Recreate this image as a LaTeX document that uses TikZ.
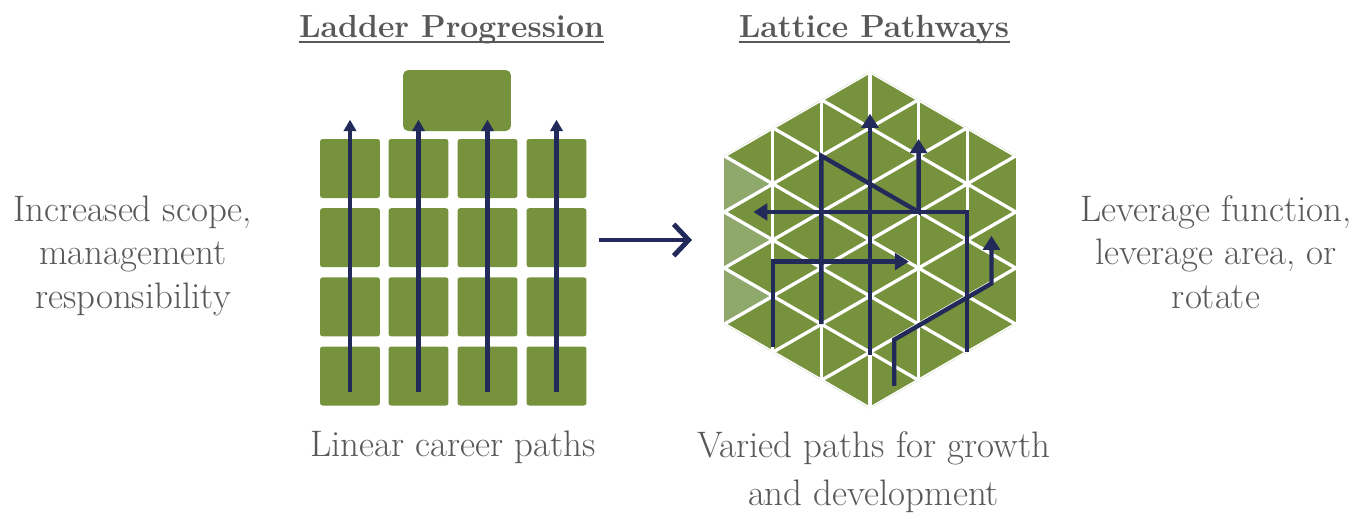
\documentclass[tikz,border=0pt]{standalone}
\usepackage{xcolor}
\usepackage{tikz}
\usetikzlibrary{positioning,arrows.meta}
\definecolor{leaf}{HTML}{76923C}
\definecolor{leaflight}{HTML}{8FA86B}
\definecolor{navy}{HTML}{222A5A}
\definecolor{ink}{HTML}{585858}

\begin{document}
\begin{tikzpicture}[x=0.02cm,y=-0.02cm]
      \tikzstyle{cell} = [rectangle, fill=leaf, rounded corners=1.5pt,
      inner sep=0pt, minimum width=1.2cm, minimum height=1.18cm]
      \tikzstyle{topcell} = [cell, rounded corners=3pt, minimum
      width=2.16cm, minimum height=1.22cm]
      \tikzstyle{climb} = [draw=navy, line width=2.3pt,
      -{Triangle[length=6.5pt,width=7pt]}]
      \tikzstyle{route} = [draw=navy, line width=2.5pt,
      -{Triangle[length=8pt,width=9.5pt]}]
      \tikzstyle{seam} = [draw=white, line width=1.9pt]
      \tikzstyle{txt} = [text=ink, align=center, inner sep=0pt,
      font=\fontsize{21}{24.7}\selectfont]
      \tikzstyle{ttl} = [txt, font=\fontsize{18.2}{22}\selectfont\bfseries]
      \useasboundingbox (0,0) rectangle (1357,515);
      % TITLES
      \node[ttl, anchor=base] (lp) at (451.5,37) {Ladder Progression};
      \node[ttl, anchor=base] (lt) at (874,37) {Lattice Pathways};
      \draw[ink, line width=1.3pt] ([yshift=-2.9pt]lp.base west) --
      ([yshift=-2.9pt]lp.base east);
      \draw[ink, line width=1.3pt] ([yshift=-2.9pt]lt.base west) --
      ([yshift=-2.9pt]lt.base east);
      % SIDE TEXT (base = last line)
      \node[txt, anchor=base] (lefttxt) at (133,308) {Increased
        scope,\\ management\\ responsibility};
      \node[txt, anchor=base] (righttxt) at (1216,308) {Leverage
        function,\\ leverage area, or\\ rotate};
      \node[txt, anchor=base] (lin) at (453,456) {Linear career paths};
      \node[txt, anchor=base, font=\fontsize{21}{27.2}\selectfont]
      (var) at (873.5,505) {Varied paths for growth\\ and development};
      % LADDER
      \node[topcell] (top) at (457,100.5) {};
      \node[cell] (a1) at (350,168.5) {}; \node[cell] (b1) at (418.5,168.5) {};
      \node[cell] (c1) at (487.5,168.5) {}; \node[cell] (d1) at (556.5,168.5) {};
      \node[cell] (a2) at (350,237.7) {}; \node[cell] (b2) at (418.5,237.7) {};
      \node[cell] (c2) at (487.5,237.7) {}; \node[cell] (d2) at (556.5,237.7) {};
      \node[cell] (a3) at (350,306.9) {}; \node[cell] (b3) at (418.5,306.9) {};
      \node[cell] (c3) at (487.5,306.9) {}; \node[cell] (d3) at (556.5,306.9) {};
      \node[cell] (a4) at (350,376) {}; \node[cell] (b4) at (418.5,376) {};
      \node[cell] (c4) at (487.5,376) {}; \node[cell] (d4) at (556.5,376) {};
      \draw[climb] ([yshift=7.7pt]a4.south) -- ([yshift=10.8pt]a1.north);
      \draw[climb] ([yshift=7.7pt]b4.south) -- ([yshift=10.8pt]b1.north);
      \draw[climb] ([yshift=7.7pt]c4.south) -- ([yshift=10.8pt]c1.north);
      \draw[climb] ([yshift=7.7pt]d4.south) -- ([yshift=10.8pt]d1.north);
      % SHIFT ARROW
      \coordinate (m1) at (599,240); \coordinate (m2) at (692,240);
      \draw[navy, line width=2.8pt,
      -{Straight Barb[length=8.5pt,width=18pt]}] (m1) -- (m2);
      % LATTICE
      \begin{scope}[shift={(870,240)}, x=0.972cm, y=-0.5612cm]
        \fill[leaf] (0,-6) -- (3,-3) -- (3,3) -- (0,6) -- (-3,3) --
        (-3,-3) -- cycle;
        \fill[leaflight] (-3,-3) -- (-3,-1) -- (-2,-2) -- cycle;
        \fill[leaflight] (-3,-1) -- (-3,1) -- (-2,0) -- cycle;
        \fill[leaflight] (-3,1) -- (-3,3) -- (-2,2) -- cycle;
        \clip (0,-6) -- (3,-3) -- (3,3) -- (0,6) -- (-3,3) -- (-3,-3)
        -- cycle;
        \foreach \k in {-2,...,2}
          \draw[seam] (\k,-7) -- (\k,7);
        \foreach \c in {-8,-6,...,8} {
          \draw[seam] (-3,{\c-3}) -- (3,{\c+3});
          \draw[seam] (-3,{\c+3}) -- (3,{\c-3});
        }
      \end{scope}
      \begin{scope}[shift={(870,240)}, x=0.972cm, y=-0.5612cm]
        \coordinate (p1) at (0,4.1); \coordinate (p2) at (0,-4.5);
        \coordinate (q1) at (-1,3); \coordinate (q2) at (-1,-3);
        \coordinate (q3) at (1,-1); \coordinate (q4) at (1,-3.6);
        \coordinate (r1) at (2,4); \coordinate (r2) at (2,-1);
        \coordinate (r3) at (-2.4,-1);
        \coordinate (s1) at (-2,3.8); \coordinate (s2) at (-2,0.77);
        \coordinate (s3) at (0.8,0.77);
        \coordinate (t1) at (0.5,5.2); \coordinate (t2) at (0.5,3.55);
        \coordinate (t3) at (2.5,1.55); \coordinate (t4) at (2.5,-0.15);
      \end{scope}
      \draw[route] (p1) -- (p2);
      \draw[route] (q1) -- (q2) -- (q3) -- (q4);
      \draw[route] (r1) -- (r2) -- (r3);
      \draw[route] (s1) -- (s2) -- (s3);
      \draw[route] (t1) -- (t2) -- (t3) -- (t4);
    \end{tikzpicture}
\end{document}
